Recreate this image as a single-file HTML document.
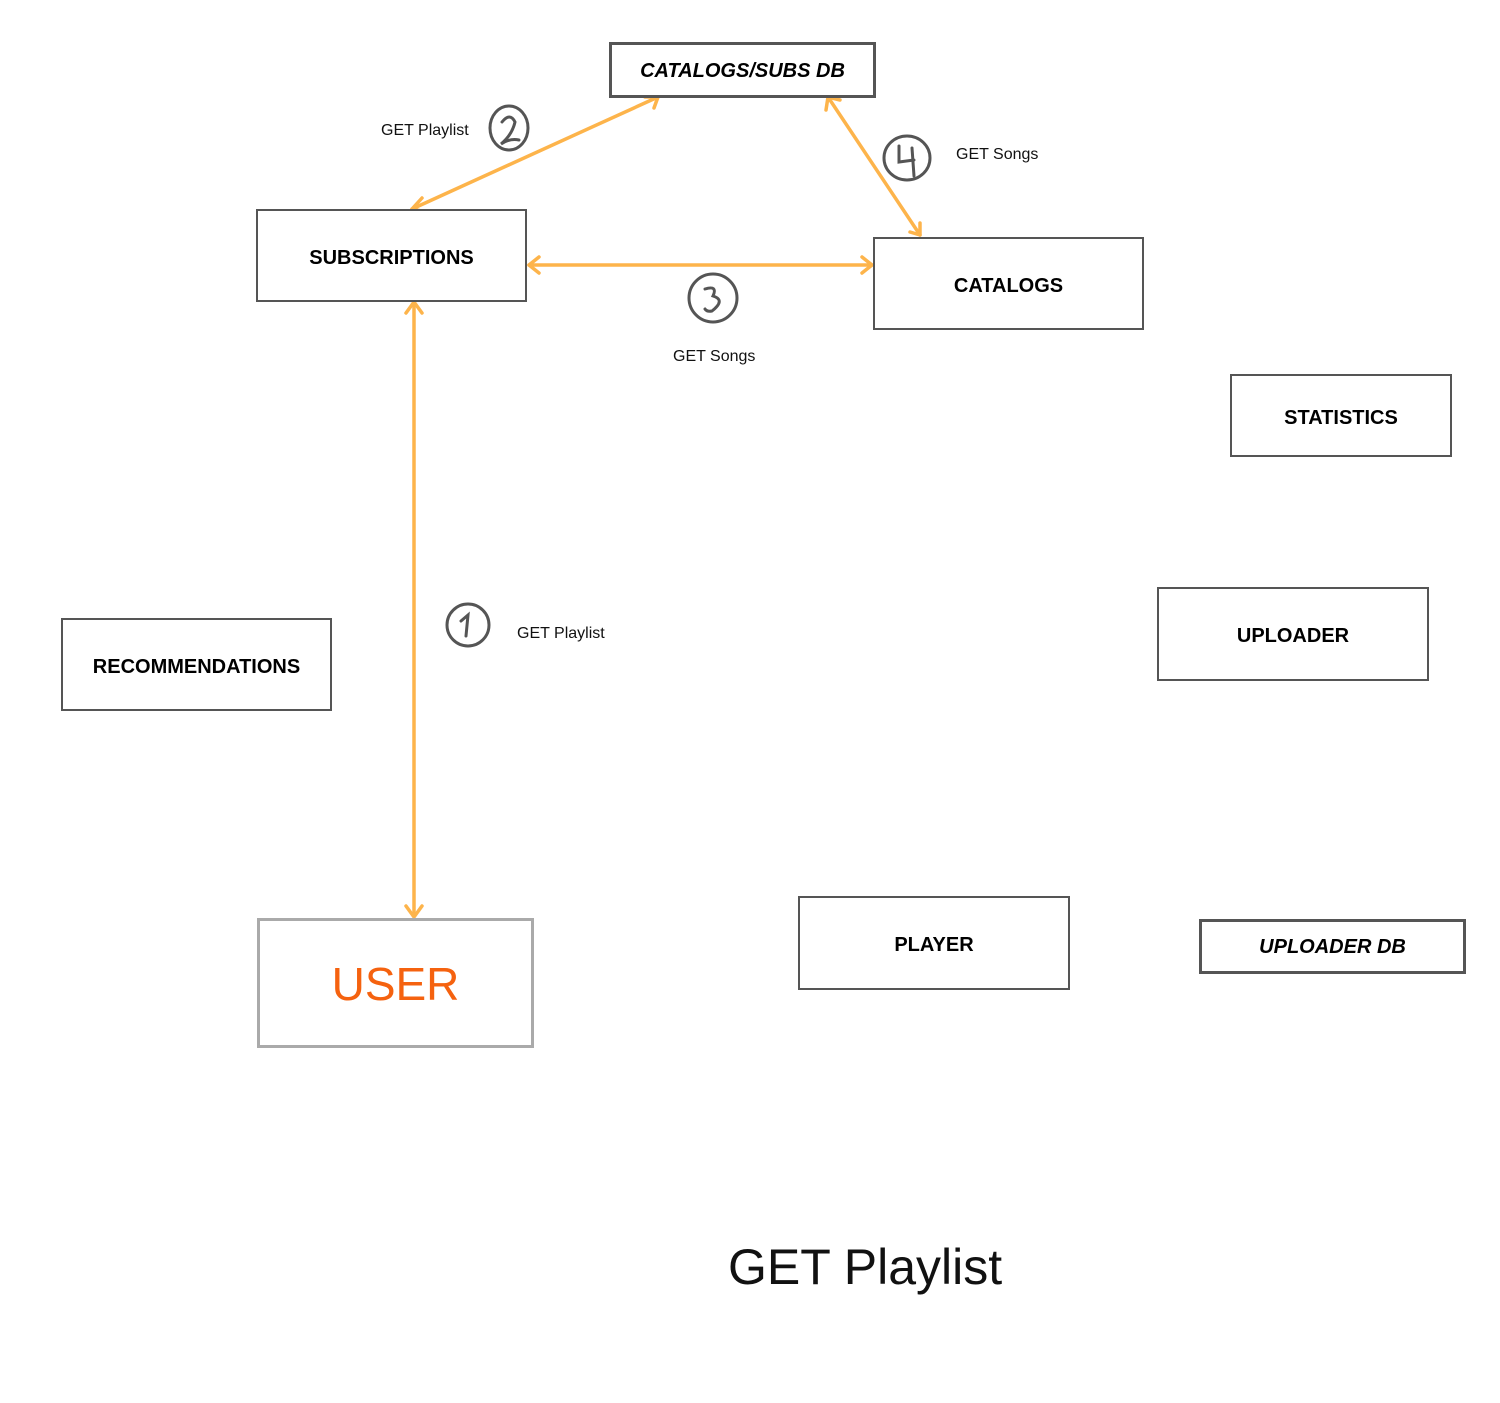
<!DOCTYPE html>
<html><head><meta charset="utf-8"><style>
html,body{margin:0;padding:0;background:#fff;}
body{width:1500px;height:1403px;position:relative;overflow:hidden;font-family:"Liberation Sans",sans-serif;}
.b{position:absolute;box-sizing:border-box;border:2px solid #555;display:flex;align-items:center;justify-content:center;font-weight:bold;font-size:20px;color:#000;background:#fff;padding-top:5px;}
.db{border-width:3px;font-style:italic;padding-top:2px;}
.l{position:absolute;font-size:16px;color:#111;}
</style></head><body>
<svg width="1500" height="1403" style="position:absolute;left:0;top:0" fill="none">
<g stroke="#FDB44B" stroke-width="3.5" stroke-linecap="round" stroke-linejoin="round">
<line x1="414" y1="303" x2="414" y2="916"/>
<polyline points="406,313 414,302 422,313"/>
<polyline points="406,906 414,917 422,906"/>
<line x1="412" y1="209" x2="658" y2="97"/>
<polyline points="422,198 412,209 426,212"/>
<polyline points="645,97 658,97 654,108"/>
<line x1="828" y1="97" x2="920" y2="235"/>
<polyline points="826,110 828,97 840,100"/>
<polyline points="910,232 920,235 920,223"/>
<line x1="529" y1="265" x2="872" y2="265"/>
<polyline points="539,257 529,265 539,273"/>
<polyline points="862,257 872,265 862,273"/>
</g>
<g stroke="#555" stroke-width="3" stroke-linecap="round">
<circle cx="468" cy="625" r="21"/>
<path d="M461,621 L468,615 L466,636"/>
<ellipse cx="509" cy="128" rx="19" ry="22"/>
<path d="M502,122 Q510,112 515,122 Q512,135 501,144 Q510,138 519,140"/>
<ellipse cx="713" cy="298" rx="24" ry="24"/>
<path d="M705,289 Q718,285 713,296 Q726,300 712,311 Q707,312 705,309"/>
<ellipse cx="907" cy="158" rx="23" ry="22"/>
<path d="M899,146 L899,162 L914,160 M912,148 L914,176"/>
</g>
</svg>
<div class="b db" style="left:609px;top:42px;width:267px;height:56px;">CATALOGS/SUBS DB</div>
<div class="b" style="left:256px;top:209px;width:271px;height:93px;">SUBSCRIPTIONS</div>
<div class="b" style="left:873px;top:237px;width:271px;height:93px;">CATALOGS</div>
<div class="b" style="left:1230px;top:374px;width:222px;height:83px;">STATISTICS</div>
<div class="b" style="left:1157px;top:587px;width:272px;height:94px;">UPLOADER</div>
<div class="b" style="left:61px;top:618px;width:271px;height:93px;">RECOMMENDATIONS</div>
<div class="b" style="left:798px;top:896px;width:272px;height:94px;">PLAYER</div>
<div class="b db" style="left:1199px;top:919px;width:267px;height:55px;">UPLOADER DB</div>
<div class="b" style="left:257px;top:918px;width:277px;height:130px;border:3px solid #aaa;font-weight:normal;font-size:46px;color:#F5620F;padding-top:2px;">USER</div>
<div class="l" style="left:381px;top:122px;">GET Playlist</div>
<div class="l" style="left:956px;top:146px;">GET Songs</div>
<div class="l" style="left:673px;top:348px;">GET Songs</div>
<div class="l" style="left:517px;top:625px;">GET Playlist</div>
<div class="l" style="left:728px;top:1238px;font-size:50px;">GET Playlist</div>
</body></html>
